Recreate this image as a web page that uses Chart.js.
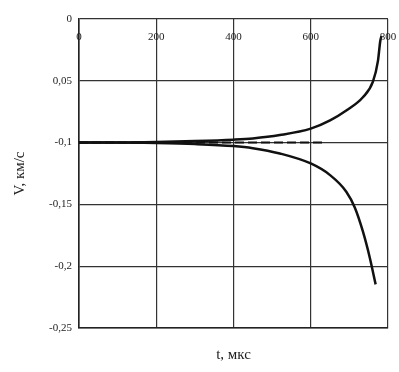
<!DOCTYPE html>
<html>
<head>
<meta charset="utf-8">
<script src="https://cdn.jsdelivr.net/npm/chart.js@4"></script>
<style>
    html, body { margin: 0; padding: 0; background: #fff; }
    #box { width: 399px; height: 372px; position: relative; }
</style>
</head>
<body>
<div id="box"><canvas id="vChart"></canvas></div>
<script>
// --- data ---
const tUpper = [0, 100, 200, 300, 400, 450, 520, 600, 650, 692, 735, 761, 774, 780, 783];
const vUpper = [-0.1, -0.1, -0.0996, -0.0988, -0.0976, -0.0966, -0.0939, -0.0887, -0.082, -0.074, -0.0633, -0.0507, -0.0339, -0.0178, -0.0138];

const tLower = [0, 100, 200, 300, 400, 450, 520, 600, 650, 692, 714, 735, 753, 768];
const vLower = [-0.1, -0.1, -0.1004, -0.1012, -0.1028, -0.1045, -0.1088, -0.1169, -0.1263, -0.1397, -0.1525, -0.1719, -0.1933, -0.2147];

const tDashed = [0, 635];
const vDashed = [-0.1, -0.1];

const xTickValues = [0, 200, 400, 600, 800];
const xTickLabels = ['0', '200', '400', '600', '800'];
const yTickValues = [-0.25, -0.2, -0.15, -0.1, -0.05, 0];
const yTickLabels = ['-0,25', '-0,2', '-0,15', '-0,1', '0,05', '0'];

const toPoints = (xs, ys) => xs.map((x, i) => ({ x, y: ys[i] }));

const serif = "'Liberation Serif', 'DejaVu Serif', serif";
const ink = '#111';

// x tick labels sit inside the plot, just under the top frame
const innerXLabels = {
    id: 'innerXLabels',
    afterDraw(chart) {
        const { ctx, chartArea, scales } = chart;
        ctx.save();
        ctx.font = `11px ${serif}`;
        ctx.fillStyle = '#222';
        ctx.textAlign = 'center';
        ctx.textBaseline = 'middle';
        xTickValues.forEach((v, i) => {
            ctx.fillText(xTickLabels[i], scales.x.getPixelForValue(v), chartArea.top + 18);
        });
        ctx.restore();
    }
};

const curveStyle = {
    borderColor: ink,
    borderWidth: 2.5,
    pointRadius: 0,
    fill: false,
    cubicInterpolationMode: 'monotone'
};

new Chart(document.getElementById('vChart'), {
    type: 'line',
    data: {
        datasets: [
            { ...curveStyle, label: 'upper', data: toPoints(tUpper, vUpper) },
            { ...curveStyle, label: 'lower', data: toPoints(tLower, vLower) },
            {
                label: 'dashed',
                data: toPoints(tDashed, vDashed),
                borderColor: ink,
                borderWidth: 2,
                borderDash: [9, 4],
                pointRadius: 0,
                fill: false
            }
        ]
    },
    options: {
        responsive: true,
        maintainAspectRatio: false,
        animation: false,
        layout: { padding: { top: 19, right: 11, left: 0, bottom: 0 } },
        plugins: {
            legend: { display: false },
            tooltip: { enabled: false }
        },
        scales: {
            x: {
                type: 'linear',
                min: 0,
                max: 800,
                afterBuildTicks: scale => { scale.ticks = xTickValues.map(value => ({ value })); },
                afterFit: scale => { scale.height = 44; },
                ticks: { display: false },
                grid: { color: '#333', lineWidth: 1.2, drawTicks: false },
                border: { color: '#222', width: 1.6 },
                title: {
                    display: true,
                    text: 't, мкс',
                    color: '#222',
                    font: { family: serif, size: 15 },
                    padding: { top: 0, bottom: 8 }
                }
            },
            y: {
                type: 'linear',
                min: -0.25,
                max: 0,
                afterBuildTicks: scale => { scale.ticks = yTickValues.map(value => ({ value })); },
                afterFit: scale => { scale.width = 79; },
                ticks: {
                    padding: 7,
                    color: '#222',
                    font: { family: serif, size: 11 },
                    callback: (value, index) => yTickLabels[index]
                },
                grid: { color: '#333', lineWidth: 1.2, drawTicks: false },
                border: { color: '#222', width: 1.6 },
                title: {
                    display: true,
                    text: 'V, км/с',
                    color: '#222',
                    font: { family: serif, size: 15 },
                    padding: { top: 11, bottom: 0 }
                }
            }
        }
    },
    plugins: [innerXLabels]
});
</script>
</body>
</html>
